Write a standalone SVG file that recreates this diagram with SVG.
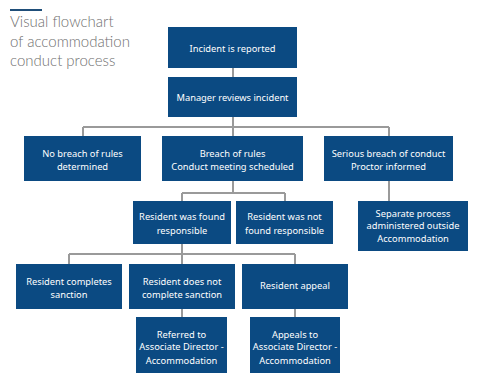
<svg xmlns="http://www.w3.org/2000/svg" width="480" height="383" viewBox="0 0 480 383">
<style>
.box{fill:#0b4a82}
.t{font-family:"Noto Sans","Open Sans",sans-serif;font-size:9.3px;fill:#ffffff;text-anchor:middle}
.title{font-family:Lato,"Open Sans",sans-serif;font-size:15px;fill:#707070;font-weight:300}
.c{fill:none;stroke:#9a9a9a;stroke-width:2}
</style>
<rect width="480" height="383" fill="#ffffff"/>
<g id="title">
<rect x="10" y="9" width="32" height="2" fill="#1f4e79"/>
<text class="title" x="10" y="27">Visual flowchart</text>
<text class="title" x="10" y="47">of accommodation</text>
<text class="title" x="10" y="66">conduct process</text>
</g>
<g id="connectors">
<path class="c" d="M233 68V77M233 117V127M83 127H389M83 127V136M233 127V136M389 127V136"/>
<path class="c" d="M233 181V193M182 193H285M182 193V201M285 193V201M389 181V201"/>
<path class="c" d="M182 244V254M69 254H295M69 254V264M182 254V264M295 254V264"/>
<path class="c" d="M182 309V317M295 309V317"/>
</g>
<g id="n1"><rect class="box" x="168" y="27" width="129" height="41"/><text class="t" x="232.5" y="51.5">Incident is reported</text></g>
<g id="n2"><rect class="box" x="168" y="77" width="129" height="40"/><text class="t" x="232.5" y="100.5">Manager reviews incident</text></g>
<g id="n3"><rect class="box" x="24" y="136" width="117" height="45"/><text class="t" x="82.5" y="156.5">No breach of rules</text><text class="t" x="82.5" y="169.5">determined</text></g>
<g id="n4"><rect class="box" x="162" y="136" width="141" height="45"/><text class="t" x="232.5" y="156.5">Breach of rules</text><text class="t" x="232.5" y="169.5">Conduct meeting scheduled</text></g>
<g id="n5"><rect class="box" x="324" y="136" width="129" height="45"/><text class="t" x="388.5" y="156.5">Serious breach of conduct</text><text class="t" x="388.5" y="169.5">Proctor informed</text></g>
<g id="n6"><rect class="box" x="133" y="201" width="98" height="43"/><text class="t" x="182" y="220">Resident was found</text><text class="t" x="182" y="233.5">responsible</text></g>
<g id="n7"><rect class="box" x="236" y="201" width="97" height="43"/><text class="t" x="284.5" y="220">Resident was not</text><text class="t" x="284.5" y="233.5">found responsible</text></g>
<g id="n8"><rect class="box" x="358" y="201" width="110" height="50"/><text class="t" x="413" y="216.5">Separate process</text><text class="t" x="413" y="229">administered outside</text><text class="t" x="413" y="241.5">Accommodation</text></g>
<g id="n9"><rect class="box" x="16" y="264" width="106" height="45"/><text class="t" x="69" y="284.5">Resident completes</text><text class="t" x="69" y="297.5">sanction</text></g>
<g id="n10"><rect class="box" x="129" y="264" width="106" height="45"/><text class="t" x="182" y="284.5">Resident does not</text><text class="t" x="182" y="297.5">complete sanction</text></g>
<g id="n11"><rect class="box" x="242" y="264" width="106" height="45"/><text class="t" x="295" y="288.5">Resident appeal</text></g>
<g id="n12"><rect class="box" x="136" y="317" width="91" height="56"/><text class="t" x="181.5" y="337.5">Referred to</text><text class="t" x="181.5" y="350">Associate Director -</text><text class="t" x="181.5" y="363.5">Accommodation</text></g>
<g id="n13"><rect class="box" x="250" y="317" width="90" height="56"/><text class="t" x="295" y="337.5">Appeals to</text><text class="t" x="295" y="350">Associate Director -</text><text class="t" x="295" y="363.5">Accommodation</text></g>
</svg>
